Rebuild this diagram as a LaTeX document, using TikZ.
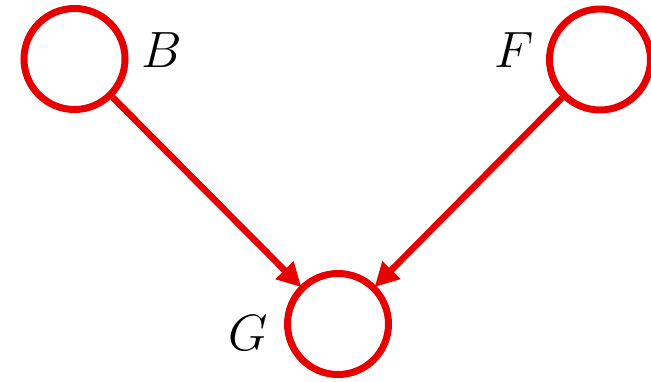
\documentclass[tikz,border=0pt]{standalone}
\usepackage{fix-cm}
\usetikzlibrary{arrows.meta}
\definecolor{netred}{RGB}{230,0,0}
\tikzset{
  var/.style={circle, draw=netred, line width=7pt, minimum size=101pt, inner sep=0pt},
  lbl/.style={inner sep=0pt, font=\fontsize{51}{51}\selectfont},
  edge/.style={draw=netred, line width=6.5pt, -{Triangle[length=24pt, width=24pt, fill=netred]}, shorten >=-2pt}
}
\begin{document}
\begin{tikzpicture}[x=1pt, y=-1pt]
\useasboundingbox (0,0) rectangle (651,382);
\node[var] (B) at (74.5,59) {};
\node[var] (F) at (600,59.5) {};
\node[var] (G) at (338,324) {};
\node[lbl] (lB) at (162,50) {$B$};
\node[lbl] (lF) at (514,50) {$F$};
\node[lbl] (lG) at (248,333) {$G$};
\draw[edge] (B) -- (G);
\draw[edge] (F) -- (G);
\end{tikzpicture}
\end{document}
